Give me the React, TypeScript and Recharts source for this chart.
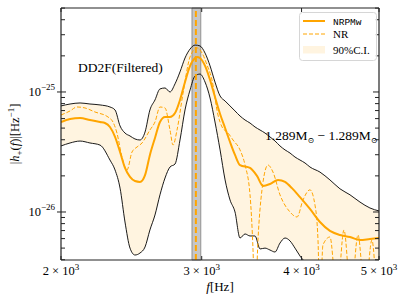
import {
  ComposedChart,
  Area,
  Line,
  XAxis,
  YAxis,
  ReferenceArea,
  ReferenceLine,
} from "recharts";

// 90% C.I. band
const bandFreq = [
  2000, 2053, 2113, 2174, 2238, 2303, 2337, 2371, 2405, 2440, 2475, 2511, 2548, 2584, 2622,
  2660, 2699, 2738, 2778, 2818, 2859, 2901, 2943, 2985, 3029, 3073, 3117, 3163, 3209, 3255,
  3302, 3350, 3399, 3448, 3498, 3549, 3600, 3652, 3705, 3759, 3814, 3869, 3925, 3982, 4040,
  4098, 4218, 4341, 4468, 4599, 4733, 4871, 5000,
];
const ciUpper = [
  7.65e-26, 7.94e-26, 8.1e-26, 7.94e-26, 7.8e-26, 7.5e-26, 7.08e-26, 5.21e-26, 4.55e-26, 4.3e-26,
  4.06e-26, 3.98e-26, 4.64e-26, 7.08e-26, 8.58e-26, 1.06e-25, 1.08e-25, 1.0e-25, 1.17e-25, 1.47e-25,
  1.92e-25, 2.28e-25, 2.46e-25, 2.42e-25, 2.11e-25, 1.65e-25, 1.21e-25, 9.26e-26, 8.41e-26, 7.65e-26,
  6.95e-26, 6.31e-26, 5.84e-26, 5.51e-26, 5.11e-26, 4.82e-26, 4.55e-26, 4.22e-26, 3.91e-26, 3.55e-26,
  3.29e-26, 3.1e-26, 2.87e-26, 2.71e-26, 2.56e-26, 2.37e-26, 2.15e-26, 1.85e-26, 1.56e-26, 1.39e-26,
  1.21e-26, 1.08e-26, 1.02e-26,
];
const ciLower = [
  3.55e-26, 3.76e-26, 3.9e-26, 3.76e-26, 3.61e-26, 2.71e-26, 2.24e-26, 1.58e-26, 8.25e-27, 5.0e-27,
  4.38e-27, 4.55e-27, 5.11e-27, 7.08e-27, 9.44e-27, 1.39e-26, 1.92e-26, 2.37e-26, 2.51e-26, 3.98e-26,
  7.08e-26, 1.04e-25, 1.36e-25, 1.41e-25, 1.21e-25, 8.91e-26, 5.62e-26, 3.29e-26, 1.85e-26, 1.26e-26,
  1.0e-26, 6.07e-27, 6.56e-27, 6.31e-27, 6.31e-27, 4.92e-27, 5.0e-27, 4.82e-27, 4.64e-27, 5.51e-27,
  6.07e-27, 5.74e-27, 5.0e-27, 4.3e-27, 3.69e-27, 2.5e-27, 1.5e-27, 1.2e-27, 1e-27, 1e-27,
  1e-27, 1e-27, 1e-27,
];

// NRPMw
const nrpmwFreq = [
  2000, 2053, 2113, 2174, 2238, 2270, 2303, 2337, 2371, 2405, 2440, 2475, 2511, 2548, 2584,
  2622, 2660, 2699, 2738, 2778, 2818, 2859, 2901, 2943, 2960, 2985, 3029, 3073, 3117, 3163,
  3209, 3255, 3302, 3350, 3448, 3518, 3580, 3652, 3738, 3814, 3891, 3982, 4098, 4218, 4341,
  4468, 4599, 4733, 4871, 5000,
];
const nrpmwAmp = [
  5.62e-26, 5.96e-26, 6.07e-26, 5.84e-26, 5.62e-26, 5.51e-26, 5.11e-26, 4.22e-26, 3.16e-26, 2.33e-26,
  1.96e-26, 1.81e-26, 1.78e-26, 2.03e-26, 2.99e-26, 4.14e-26, 5.62e-26, 6.19e-26, 6.19e-26, 6.68e-26,
  8.58e-26, 1.21e-25, 1.65e-25, 1.92e-25, 1.96e-25, 1.92e-25, 1.65e-25, 1.26e-25, 9.08e-26, 6.56e-26,
  5.01e-26, 3.83e-26, 2.99e-26, 2.46e-26, 2.33e-26, 2.0e-26, 1.65e-26, 1.71e-26, 1.85e-26, 1.78e-26,
  1.58e-26, 1.33e-26, 1.06e-26, 8.25e-27, 6.95e-27, 6.43e-27, 6.19e-27, 5.84e-27, 5.96e-27, 6.07e-27,
];

// NR
const nrFreq = [
  2000, 2053, 2094, 2143, 2206, 2290, 2323, 2350, 2384, 2419, 2454, 2490, 2526, 2584, 2622,
  2660, 2699, 2738, 2762, 2794, 2843, 2901, 2960, 3003, 3046, 3090, 3144, 3181, 3237, 3283,
  3350, 3399, 3448, 3478, 3498, 3528, 3569, 3631, 3684, 3759, 3869, 3948, 4017, 4098, 4158,
  4194, 4218, 4254, 4341, 4430, 4520, 4612, 4706, 4802, 4899, 4985, 5000,
];
const nrAmp = [
  6.43e-26, 6.95e-26, 7.5e-26, 7.36e-26, 6.81e-26, 6.19e-26, 5.62e-26, 4.55e-26, 2.87e-26, 2.24e-26,
  3.16e-26, 3.48e-26, 3.76e-26, 4.82e-26, 5.62e-26, 7.5e-26, 7.36e-26, 4.82e-26, 3.61e-26, 4.82e-26,
  9.8e-26, 1.96e-25, 2.33e-25, 2.11e-25, 1.68e-25, 1.26e-25, 6.43e-26, 5.11e-26, 4.55e-26, 3.98e-26,
  3.29e-26, 2.46e-26, 1.39e-26, 4.82e-27, 1.5e-27, 5.84e-27, 1.53e-26, 2.46e-26, 2.15e-26, 1.39e-26,
  1.0e-26, 9.08e-27, 1.26e-26, 1.53e-26, 1.14e-26, 5.84e-27, 1.5e-27, 5.31e-27, 6.19e-27, 2e-27,
  7.08e-27, 2e-27, 6.43e-27, 2e-27, 5.84e-27, 2e-27, 3e-27,
];

const xTicks = [2000, 3000, 4000, 5000];
const xTickMantissa = ["2", "3", "4", "5"];
const yMajor = [1e-26, 1e-25];
const yMajorExp = ["−26", "−25"];
const yMinor = [
  4e-27, 5e-27, 6e-27, 7e-27, 8e-27, 9e-27,
  2e-26, 3e-26, 4e-26, 5e-26, 6e-26, 7e-26, 8e-26, 9e-26,
  2e-25, 3e-25, 4e-25, 5e-25,
];
const peakBand = [2917, 2992];
const peakFreq = 2950;

const band = bandFreq.map((f, i) => ({ f, hi: ciUpper[i], lo: ciLower[i] }));
const nrpmw = nrpmwFreq.map((f, i) => ({ f, v: nrpmwAmp[i] }));
const nr = nrFreq.map((f, i) => ({ f, v: nrAmp[i] }));
const yTicks = [...yMinor, ...yMajor].sort((a, b) => a - b);

const SERIF = "'Liberation Serif', 'DejaVu Serif', serif";
const ORANGE = "#FFA500";
const AXIS = "#222";

const majorIndex = (v: number) => yMajor.findIndex((m) => Math.abs(m - v) / m < 1e-6);

const BottomTick = (p: any) => {
  const i = xTicks.indexOf(p.payload.value);
  return (
    <g>
      <line x1={p.x} x2={p.x} y1={p.y} y2={p.y - 4} stroke={AXIS} />
      <text x={p.x} y={p.y + 15} textAnchor="middle" fontFamily={SERIF} fontSize={12.5} fill="#000">
        {xTickMantissa[i]} × 10
        <tspan dy={-5} fontSize={9}>3</tspan>
      </text>
    </g>
  );
};

const TopTick = (p: any) => <line x1={p.x} x2={p.x} y1={p.y} y2={p.y + 4} stroke={AXIS} />;

const LeftTick = (p: any) => {
  const i = majorIndex(p.payload.value);
  if (i < 0) return <line x1={p.x} x2={p.x + 4} y1={p.y} y2={p.y} stroke={AXIS} />;
  return (
    <g>
      <line x1={p.x - 4} x2={p.x + 5} y1={p.y} y2={p.y} stroke={AXIS} />
      <text x={p.x - 6} y={p.y + 4} textAnchor="end" fontFamily={SERIF} fontSize={12.5} fill="#000">
        10
        <tspan dy={-6} fontSize={9}>{yMajorExp[i]}</tspan>
      </text>
    </g>
  );
};

const RightTick = (p: any) => {
  const len = majorIndex(p.payload.value) < 0 ? 4 : 6;
  return <line x1={p.x - len} x2={p.x} y1={p.y} y2={p.y} stroke={AXIS} />;
};

const App = () => {
  return (
    <div style={{ position: "absolute", left: 0, top: 0, width: 407, height: 301, background: "#fff" }}>
      <ComposedChart
        width={407}
        height={301}
        data={band}
        margin={{ top: 7, right: 27, bottom: 11, left: 31 }}
      >
        <XAxis
          dataKey="f"
          type="number"
          scale="log"
          domain={[2000, 5000]}
          allowDataOverflow
          ticks={xTicks}
          interval={0}
          height={30}
          tickSize={0}
          tickMargin={0}
          tick={BottomTick}
          axisLine={{ stroke: AXIS, strokeWidth: 1.2 }}
        />
        <XAxis
          xAxisId="top"
          orientation="top"
          dataKey="f"
          type="number"
          scale="log"
          domain={[2000, 5000]}
          allowDataOverflow
          ticks={xTicks}
          interval={0}
          height={1}
          tickSize={0}
          tickMargin={0}
          tick={TopTick}
          axisLine={{ stroke: AXIS, strokeWidth: 1.2 }}
        />
        <YAxis
          type="number"
          scale="log"
          domain={[3.98e-27, 5.01e-25]}
          allowDataOverflow
          ticks={yTicks}
          interval={0}
          width={30}
          tickSize={0}
          tickMargin={0}
          tick={LeftTick}
          axisLine={{ stroke: AXIS, strokeWidth: 1.2 }}
        />
        <YAxis
          yAxisId="right"
          orientation="right"
          type="number"
          scale="log"
          domain={[3.98e-27, 5.01e-25]}
          allowDataOverflow
          ticks={yTicks}
          interval={0}
          width={1}
          tickSize={0}
          tickMargin={0}
          tick={RightTick}
          axisLine={{ stroke: AXIS, strokeWidth: 1.2 }}
        />
        <Area
          dataKey={(d: any) => [d.lo, d.hi]}
          type="monotone"
          stroke="none"
          fill={ORANGE}
          fillOpacity={0.12}
          isAnimationActive={false}
        />
        <ReferenceArea
          x1={peakBand[0]}
          x2={peakBand[1]}
          fill="#808080"
          fillOpacity={0.45}
          stroke="#808080"
          strokeOpacity={0.8}
        />
        <Line dataKey="hi" type="monotone" stroke="#000" strokeWidth={0.9} dot={false} activeDot={false} isAnimationActive={false} />
        <Line dataKey="lo" type="monotone" stroke="#000" strokeWidth={0.9} dot={false} activeDot={false} isAnimationActive={false} />
        <Line data={nr} dataKey="v" type="monotone" stroke={ORANGE} strokeWidth={1} strokeDasharray="4 2" dot={false} activeDot={false} isAnimationActive={false} />
        <Line data={nrpmw} dataKey="v" type="monotone" stroke={ORANGE} strokeWidth={2} dot={false} activeDot={false} isAnimationActive={false} />
        <ReferenceLine x={peakFreq} stroke={ORANGE} strokeWidth={2} strokeDasharray="6 3" />
      </ComposedChart>

      <svg
        width={407}
        height={301}
        style={{ position: "absolute", left: 0, top: 0, pointerEvents: "none" }}
        fontFamily={SERIF}
      >
        <text x={78} y={72} fontSize={13.5}>DD2F(Filtered)</text>
        <text x={265} y={140} fontSize={13.5}>
          1.289M<tspan dy={3} fontSize={8}>⊙</tspan>
          <tspan dy={-3}> − 1.289M</tspan>
          <tspan dy={3} fontSize={8}>⊙</tspan>
        </text>
        <text x={220} y={291} textAnchor="middle" fontSize={13}>
          <tspan fontStyle="italic">f</tspan>[Hz]
        </text>
        <text transform="translate(19,134) rotate(-90)" textAnchor="middle" fontSize={12.5}>
          |<tspan fontStyle="italic">h</tspan>
          <tspan dy={3} fontSize={9}>+</tspan>
          <tspan dy={-3}>(</tspan>
          <tspan fontStyle="italic">f</tspan>)|[Hz
          <tspan dy={-5} fontSize={9}>−1</tspan>
          <tspan dy={5}>]</tspan>
        </text>

        <rect x={299.5} y={12.5} width={77} height={48} rx={3} fill="#fff" fillOpacity={0.85} stroke="#d6d6d6" />
        <line x1={303} x2={325} y1={21} y2={21} stroke={ORANGE} strokeWidth={2} />
        <text x={333} y={24.5} fontSize={9.5} fontFamily="'Liberation Mono', 'DejaVu Sans Mono', monospace">NRPMw</text>
        <line x1={303} x2={325} y1={34} y2={34} stroke={ORANGE} strokeWidth={1} strokeDasharray="4 2" />
        <text x={333} y={38} fontSize={11}>NR</text>
        <rect x={303} y={46} width={22} height={7.5} fill={ORANGE} fillOpacity={0.12} />
        <text x={333} y={53.5} fontSize={11}>90%C.I.</text>
      </svg>
    </div>
  );
};

export default App;
